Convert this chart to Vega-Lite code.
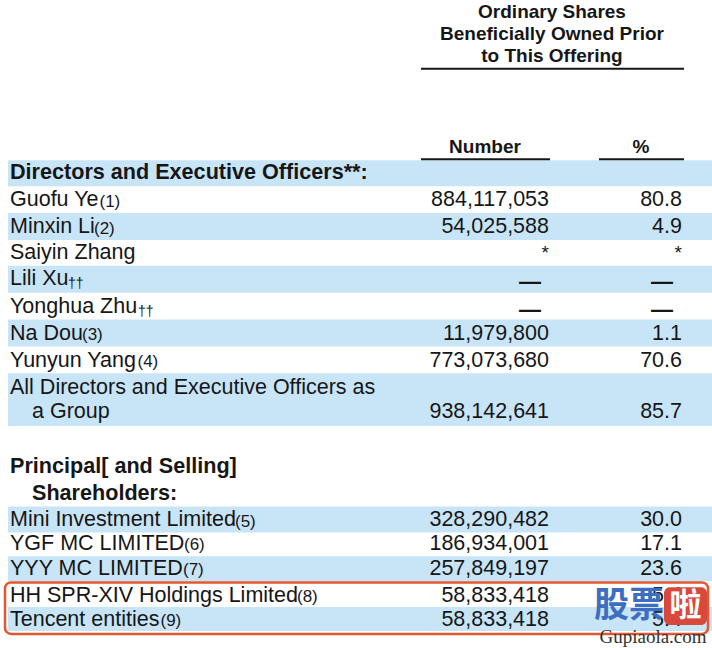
{
  "$schema": "https://vega.github.io/schema/vega-lite/v6.json",
  "width": 712,
  "height": 648,
  "autosize": {"type": "fit", "contains": "padding"},
  "padding": 0,
  "background": "white",
  "config": {"view": {"stroke": null}, "text": {"font": "Liberation Sans", "color": "#161616"}},
  "datasets": {
    "bands": [
      {"top": 5.96, "bottom": 6.93},
      {"top": 7.93, "bottom": 8.93},
      {"top": 9.89, "bottom": 10.89},
      {"top": 11.89, "bottom": 12.89},
      {"top": 13.89, "bottom": 15.85},
      {"top": 18.85, "bottom": 19.81},
      {"top": 20.7, "bottom": 21.63},
      {"top": 22.59, "bottom": 23.48}
    ],
    "underlines": [
      {"from": 421, "to": 684, "line": 2.56},
      {"from": 421, "to": 550, "line": 5.93},
      {"from": 599, "to": 684, "line": 5.93}
    ],
    "header": [
      {"text": "Ordinary Shares", "line": 0.44, "at": 552},
      {"text": "Beneficially Owned Prior", "line": 1.26, "at": 552},
      {"text": "to This Offering", "line": 2.07, "at": 552},
      {"text": "Number", "line": 5.48, "at": 485},
      {"text": "%", "line": 5.48, "at": 641}
    ],
    "headings": [
      {"text": "Directors and Executive Officers**:", "line": 6.44, "indent": false},
      {"text": "Principal[ and Selling]", "line": 17.37, "indent": false},
      {"text": "Shareholders:", "line": 18.37, "indent": true}
    ],
    "holders": [
      {"name": "Guofu Ye", "note": "(1)", "noteAt": 99.5, "line": 7.46, "shares": 884117053, "pct": 80.8},
      {"name": "Minxin Li", "note": "(2)", "noteAt": 94, "line": 8.46, "shares": 54025588, "pct": 4.9},
      {"name": "Saiyin Zhang", "line": 9.42, "flag": "*"},
      {"name": "Lili Xu", "note": "††", "noteAt": 68, "line": 10.38, "flag": "—"},
      {"name": "Yonghua Zhu", "note": "††", "noteAt": 138, "line": 11.42, "flag": "—"},
      {"name": "Na Dou", "note": "(3)", "noteAt": 82, "line": 12.42, "shares": 11979800, "pct": 1.1},
      {"name": "Yunyun Yang", "note": "(4)", "noteAt": 137.5, "line": 13.42, "shares": 773073680, "pct": 70.6},
      {"name": "All Directors and Executive Officers as", "line": 14.42},
      {"name": "a Group", "indent": true, "line": 15.32, "shares": 938142641, "pct": 85.7},
      {"name": "Mini Investment Limited", "note": "(5)", "noteAt": 235, "line": 19.35, "shares": 328290482, "pct": 30.0},
      {"name": "YGF MC LIMITED", "note": "(6)", "noteAt": 184, "line": 20.24, "shares": 186934001, "pct": 17.1},
      {"name": "YYY MC LIMITED", "note": "(7)", "noteAt": 183, "line": 21.17, "shares": 257849197, "pct": 23.6},
      {"name": "HH SPR-XIV Holdings Limited", "note": "(8)", "noteAt": 297, "line": 22.17, "shares": 58833418, "pct": 5.4},
      {"name": "Tencent entities", "note": "(9)", "noteAt": 160.5, "line": 23.06, "shares": 58833418, "pct": 5.4}
    ]
  },
  "layer": [
    {
      "data": {"name": "bands"},
      "mark": {"type": "rect", "color": "#c8e5f8"},
      "encoding": {
        "x": {"datum": 8, "type": "quantitative", "scale": {"domain": [0, 712], "nice": false, "zero": false}, "axis": null},
        "x2": {"datum": 712},
        "y": {"field": "top", "type": "quantitative", "scale": {"domain": [0, 24], "nice": false, "zero": false, "reverse": true}, "axis": null},
        "y2": {"field": "bottom"}
      }
    },
    {
      "data": {"name": "underlines"},
      "mark": {"type": "rule", "color": "#161616", "strokeWidth": 2},
      "encoding": {
        "x": {"field": "from", "type": "quantitative"},
        "x2": {"field": "to"},
        "y": {"field": "line", "type": "quantitative"}
      }
    },
    {
      "data": {"name": "header"},
      "mark": {"type": "text", "fontWeight": "bold", "fontSize": 19, "align": "center", "baseline": "middle"},
      "encoding": {
        "x": {"field": "at", "type": "quantitative"},
        "y": {"field": "line", "type": "quantitative"},
        "text": {"field": "text"}
      }
    },
    {
      "data": {"name": "headings"},
      "transform": [{"filter": "!datum.indent"}],
      "mark": {"type": "text", "fontWeight": "bold", "fontSize": 21.6, "align": "left", "baseline": "middle"},
      "encoding": {
        "x": {"datum": 10, "type": "quantitative"},
        "y": {"field": "line", "type": "quantitative"},
        "text": {"field": "text"}
      }
    },
    {
      "data": {"name": "headings"},
      "transform": [{"filter": "datum.indent"}],
      "mark": {"type": "text", "fontWeight": "bold", "fontSize": 21.6, "align": "left", "baseline": "middle"},
      "encoding": {
        "x": {"datum": 32, "type": "quantitative"},
        "y": {"field": "line", "type": "quantitative"},
        "text": {"field": "text"}
      }
    },
    {
      "data": {"name": "holders"},
      "transform": [{"filter": "!datum.indent"}],
      "mark": {"type": "text", "fontSize": 21.5, "align": "left", "baseline": "middle"},
      "encoding": {
        "x": {"datum": 10, "type": "quantitative"},
        "y": {"field": "line", "type": "quantitative"},
        "text": {"field": "name"}
      }
    },
    {
      "data": {"name": "holders"},
      "transform": [{"filter": "datum.indent"}],
      "mark": {"type": "text", "fontSize": 21.5, "align": "left", "baseline": "middle"},
      "encoding": {
        "x": {"datum": 32, "type": "quantitative"},
        "y": {"field": "line", "type": "quantitative"},
        "text": {"field": "name"}
      }
    },
    {
      "data": {"name": "holders"},
      "transform": [{"filter": "datum.note && datum.note != '††'"}],
      "mark": {"type": "text", "fontSize": 17, "align": "left", "baseline": "middle", "dy": 1.5},
      "encoding": {
        "x": {"field": "noteAt", "type": "quantitative"},
        "y": {"field": "line", "type": "quantitative"},
        "text": {"field": "note"}
      }
    },
    {
      "data": {"name": "holders"},
      "transform": [{"filter": "datum.note == '††'"}],
      "mark": {"type": "text", "fontSize": 14, "align": "left", "baseline": "middle", "dy": 5},
      "encoding": {
        "x": {"field": "noteAt", "type": "quantitative"},
        "y": {"field": "line", "type": "quantitative"},
        "text": {"field": "note"}
      }
    },
    {
      "data": {"name": "holders"},
      "transform": [{"filter": "isValid(datum.shares)"}],
      "mark": {"type": "text", "fontSize": 21.5, "align": "right", "baseline": "middle"},
      "encoding": {
        "x": {"datum": 549, "type": "quantitative"},
        "y": {"field": "line", "type": "quantitative"},
        "text": {"field": "shares", "type": "quantitative", "format": ",d"}
      }
    },
    {
      "data": {"name": "holders"},
      "transform": [{"filter": "isValid(datum.pct)"}],
      "mark": {"type": "text", "fontSize": 21.5, "align": "right", "baseline": "middle"},
      "encoding": {
        "x": {"datum": 682, "type": "quantitative"},
        "y": {"field": "line", "type": "quantitative"},
        "text": {"field": "pct", "type": "quantitative", "format": ".1f"}
      }
    },
    {
      "data": {"name": "holders"},
      "transform": [{"filter": "datum.flag == '*'"}],
      "mark": {"type": "text", "fontSize": 19, "align": "right", "baseline": "middle"},
      "encoding": {
        "x": {"datum": 549, "type": "quantitative"},
        "y": {"field": "line", "type": "quantitative"},
        "text": {"field": "flag"}
      }
    },
    {
      "data": {"name": "holders"},
      "transform": [{"filter": "datum.flag == '*'"}],
      "mark": {"type": "text", "fontSize": 19, "align": "right", "baseline": "middle"},
      "encoding": {
        "x": {"datum": 682, "type": "quantitative"},
        "y": {"field": "line", "type": "quantitative"},
        "text": {"field": "flag"}
      }
    },
    {
      "data": {"name": "holders"},
      "transform": [{"filter": "datum.flag == '—'"}],
      "mark": {"type": "text", "fontSize": 22, "fontWeight": "bold", "align": "center", "baseline": "middle", "dy": 3},
      "encoding": {
        "x": {"datum": 530, "type": "quantitative"},
        "y": {"field": "line", "type": "quantitative"},
        "text": {"field": "flag"}
      }
    },
    {
      "data": {"name": "holders"},
      "transform": [{"filter": "datum.flag == '—'"}],
      "mark": {"type": "text", "fontSize": 22, "fontWeight": "bold", "align": "center", "baseline": "middle", "dy": 3},
      "encoding": {
        "x": {"datum": 662, "type": "quantitative"},
        "y": {"field": "line", "type": "quantitative"},
        "text": {"field": "flag"}
      }
    },
    {
      "data": {"values": [{"label": "highlight"}]},
      "mark": {"type": "rect", "filled": false, "stroke": "#e4572e", "strokeWidth": 2.5, "cornerRadius": 6},
      "encoding": {
        "x": {"datum": 5, "type": "quantitative"},
        "x2": {"datum": 708},
        "y": {"datum": 21.67, "type": "quantitative"},
        "y2": {"datum": 23.59}
      }
    },
    {
      "data": {"values": [{"label": "股票"}]},
      "mark": {"type": "text", "font": "Noto Sans CJK SC", "fontWeight": "bold", "fontSize": 35, "color": "#3d6ec2", "align": "center", "baseline": "middle"},
      "encoding": {
        "x": {"datum": 629, "type": "quantitative"},
        "y": {"datum": 22.56, "type": "quantitative"},
        "text": {"field": "label"}
      }
    },
    {
      "data": {"values": [{"label": "啦"}]},
      "mark": {"type": "rect", "color": "#d8493c", "cornerRadius": 6},
      "encoding": {
        "x": {"datum": 664, "type": "quantitative"},
        "x2": {"datum": 707},
        "y": {"datum": 21.85, "type": "quantitative"},
        "y2": {"datum": 23.26}
      }
    },
    {
      "data": {"values": [{"label": "啦"}]},
      "mark": {"type": "text", "font": "Noto Sans CJK SC", "fontWeight": "bold", "fontSize": 32, "color": "white", "align": "center", "baseline": "middle"},
      "encoding": {
        "x": {"datum": 685.5, "type": "quantitative"},
        "y": {"datum": 22.56, "type": "quantitative"},
        "text": {"field": "label"}
      }
    },
    {
      "data": {"values": [{"label": "Gupiaola.com"}]},
      "mark": {"type": "text", "font": "Liberation Serif", "fontSize": 19, "color": "#333333", "align": "center", "baseline": "middle"},
      "encoding": {
        "x": {"datum": 653, "type": "quantitative"},
        "y": {"datum": 23.72, "type": "quantitative"},
        "text": {"field": "label"}
      }
    }
  ]
}
